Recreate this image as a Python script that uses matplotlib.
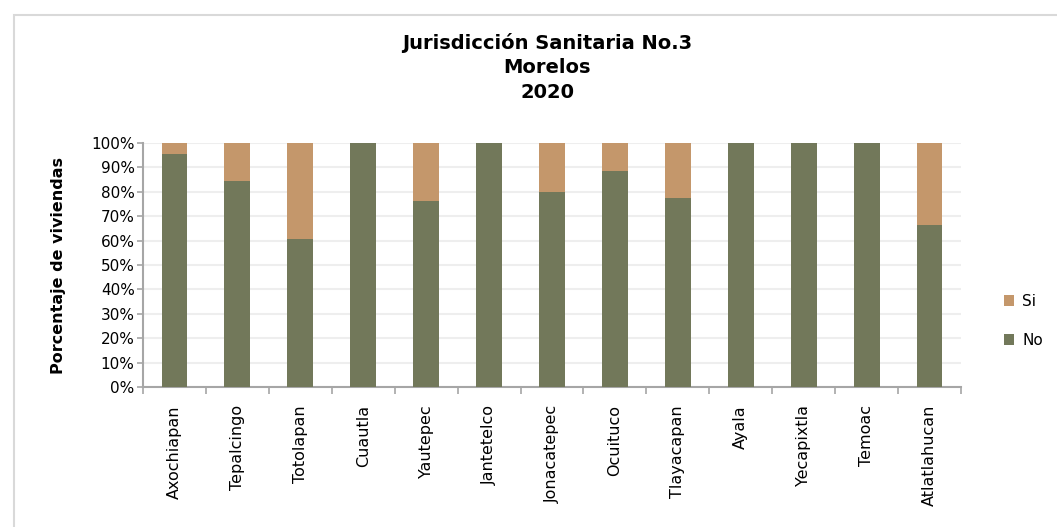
import numpy as np
import matplotlib.pyplot as plt
from matplotlib.patches import Rectangle
from matplotlib.ticker import PercentFormatter

# Data
MUNICIPIOS = ["Axochiapan", "Tepalcingo", "Totolapan", "Cuautla", "Yautepec",
              "Jantetelco", "Jonacatepec", "Ocuituco", "Tlayacapan", "Ayala",
              "Yecapixtla", "Temoac", "Atlatlahucan"]
NO = [95.5, 84.5, 60.7, 100, 76.3, 100, 80.0, 88.5, 77.5, 100, 100, 100, 66.4]
SI = [100 - v for v in NO]

TITLE = "Jurisdicción Sanitaria No.3\nMorelos\n2020"
Y_LABEL = "Porcentaje de viviendas"
COLOR_NO = "#72785A"
COLOR_SI = "#C4976B"

FIG_SIZE = (10.57, 5.27)

fig = plt.figure(figsize=FIG_SIZE, dpi=100)
fig.patches.append(Rectangle((14 / 1057, -0.1), 1.2, (527 - 15) / 527 + 0.1,
                             transform=fig.transFigure, fill=False,
                             edgecolor="#d9d9d9", linewidth=1.5))
ax = fig.add_axes([143 / 1057, (527 - 387) / 527, 818 / 1057, 244 / 527])

x = np.arange(len(MUNICIPIOS))
b_no = ax.bar(x, NO, width=0.41, color=COLOR_NO, zorder=3, label="No")
b_si = ax.bar(x, SI, width=0.41, bottom=NO, color=COLOR_SI, zorder=3, label="Si")

ax.set_xlim(-0.5, len(MUNICIPIOS) - 0.5)
ax.set_ylim(0, 100)
ax.set_yticks(np.arange(0, 101, 10))
ax.yaxis.set_major_formatter(PercentFormatter(decimals=0))
ax.grid(axis="y", color="#eeeeee", linewidth=1.5, zorder=0)

ax.set_xticks(x)
ax.set_xticklabels(MUNICIPIOS, rotation=90, fontsize=11.5)
ax.set_xticks(np.arange(-0.5, len(MUNICIPIOS), 1), minor=True)
ax.tick_params(axis="x", which="major", length=0, pad=13)
ax.tick_params(axis="x", which="minor", length=5, color="#a6a6a6", width=1.2)
ax.tick_params(axis="y", labelsize=11, length=4, color="#a6a6a6", width=1.2, pad=2)

for side in ["top", "right"]:
    ax.spines[side].set_visible(False)
for side in ["left", "bottom"]:
    ax.spines[side].set_color("#a6a6a6")
    ax.spines[side].set_linewidth(1.5)

fig.text(59 / 1057, 1 - 266 / 527, Y_LABEL, rotation=90, ha="center",
         va="center", fontsize=11.5, fontweight="bold")

fig.text(547 / 1057, 1 - 33 / 527, TITLE, ha="center", va="top",
         fontsize=14, fontweight="bold", linespacing=1.35)

fig.legend([b_si, b_no], ["Si", "No"], loc="center left",
           bbox_to_anchor=(990 / 1057, 1 - 321 / 527), frameon=False,
           fontsize=11, handlelength=0.7, handleheight=0.7,
           handletextpad=0.5, labelspacing=1.55)

plt.savefig("out.png", dpi=100)
